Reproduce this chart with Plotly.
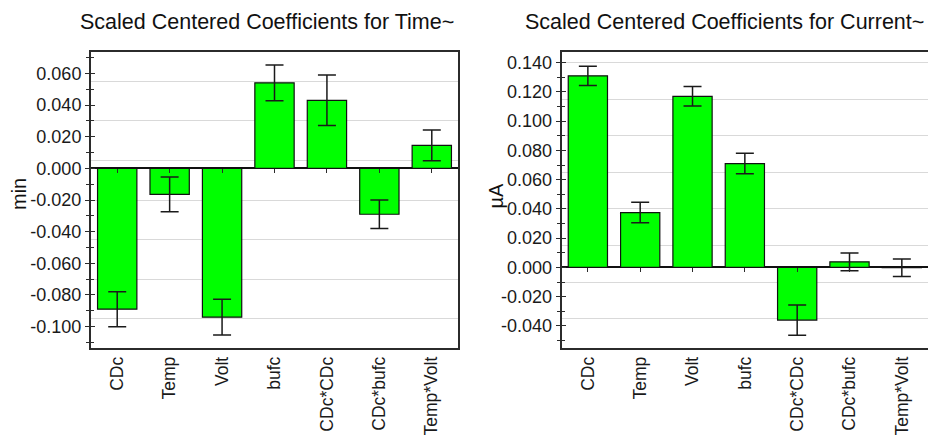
import plotly.graph_objects as go

categories = ["CDc", "Temp", "Volt", "bufc", "CDc*CDc", "CDc*bufc", "Temp*Volt"]

time_values = [-0.089, -0.0165, -0.094, 0.054, 0.043, -0.029, 0.0145]
time_errors = [0.011, 0.011, 0.0113, 0.0113, 0.016, 0.009, 0.0097]

current_values = [0.131, 0.0375, 0.117, 0.071, -0.036, 0.0038, -0.0002]
current_errors = [0.0066, 0.007, 0.0067, 0.007, 0.0103, 0.006, 0.006]

time_tickvals = [-0.10, -0.08, -0.06, -0.04, -0.02, 0.0, 0.02, 0.04, 0.06]
time_ticktext = ["-0.100", "-0.080", "-0.060", "-0.040", "-0.020", "0.000", "0.020", "0.040", "0.060"]
current_tickvals = [-0.04, -0.02, 0.0, 0.02, 0.04, 0.06, 0.08, 0.10, 0.12, 0.14]
current_ticktext = ["-0.040", "-0.020", "0.000", "0.020", "0.040", "0.060", "0.080", "0.100", "0.120", "0.140"]

titles = ["Scaled Centered Coefficients for Time~", "Scaled Centered Coefficients for Current~"]
units = ["min", "µA"]

W, H = 928, 439
FONT = "Liberation Sans, Arial, sans-serif"
GREEN = "#00ff00"
FRAME = "#2b2b2b"
GRID = "#d9d9d9"

ydom = [(H - 348) / H, (H - 52) / H]
xdoms = [[91 / W, 458 / W], [561.7 / W, 1.0]]
yranges = [[-0.1135, 0.0735], [-0.0551, 0.1473]]
grid0 = [0.005, 0.015]
xr = [-0.5, len(categories) - 0.5]
idx = list(range(len(categories)))

fig = go.Figure()

panels = [
    (time_values, time_errors, time_tickvals, time_ticktext),
    (current_values, current_errors, current_tickvals, current_ticktext),
]

for i, (vals, errs, tv, tt) in enumerate(panels):
    n = i + 1
    xa = "x" if n == 1 else f"x{n}"
    ya = "y" if n == 1 else f"y{n}"
    fig.add_trace(go.Bar(
        x=categories, y=vals, xaxis=xa, yaxis=ya,
        marker=dict(color=GREEN, line=dict(color="#111111", width=1.2)),
        width=0.75,
        error_y=dict(type="data", array=errs, visible=True, color="#1a1a1a",
                     thickness=1.5, width=9),
        showlegend=False, hoverinfo="skip",
    ))
    lab = 3 + i * 2
    # invisible helpers so the overlay axes get drawn
    for yk in (f"y{lab}", f"y{lab + 1}"):
        fig.add_trace(go.Scatter(
            x=categories, y=vals, xaxis=xa, yaxis=yk, mode="markers",
            marker=dict(opacity=0, size=1), showlegend=False, hoverinfo="skip",
        ))
    fig.add_trace(go.Scatter(
        x=idx, y=vals, xaxis=f"x{3 + i}", yaxis=ya, mode="markers",
        marker=dict(opacity=0, size=1), showlegend=False, hoverinfo="skip",
    ))

layout = dict(
    width=W, height=H, autosize=False,
    margin=dict(l=0, r=0, t=0, b=0, autoexpand=False),
    paper_bgcolor="white", plot_bgcolor="white",
    font=dict(family=FONT, size=17, color="#1a1a1a"),
    annotations=[],
)

for i in range(2):
    n = i + 1
    xkey = "xaxis" if n == 1 else f"xaxis{n}"
    ykey = "yaxis" if n == 1 else f"yaxis{n}"
    ya = "y" if n == 1 else f"y{n}"
    xa = "x" if n == 1 else f"x{n}"
    tv, tt = panels[i][2], panels[i][3]
    r0, r1 = yranges[i]
    layout[xkey] = dict(
        domain=xdoms[i], anchor=ya, type="category", range=xr,
        tickangle=-90, ticks="", tickfont=dict(size=17.5, color="#1a1a1a"),
        showline=True, mirror=True, linecolor=FRAME, linewidth=1.5,
        showgrid=False, fixedrange=True, automargin=False,
    )
    layout[ykey] = dict(
        domain=ydom, anchor=xa, range=yranges[i],
        showgrid=True, gridcolor=GRID, gridwidth=1.2,
        tick0=grid0[i], dtick=0.025, tickmode="linear",
        showticklabels=False, ticks="",
        zeroline=True, zerolinecolor="#111111", zerolinewidth=1.5,
        showline=True, mirror=True, linecolor=FRAME, linewidth=1.5,
        automargin=False,
    )
    lab = 3 + i * 2
    layout[f"yaxis{lab}"] = dict(
        overlaying=ya, anchor=xa, range=yranges[i], side="left",
        tickmode="array", tickvals=tv, ticktext=tt,
        ticks="outside", ticklen=5, tickwidth=1.3, tickcolor=FRAME,
        minor=dict(dtick=0.01, tick0=0, ticks="outside", ticklen=4,
                   tickwidth=1.3, tickcolor=FRAME, showgrid=False),
        showgrid=False, zeroline=False, showline=False,
        tickfont=dict(size=18, color="#1a1a1a"), automargin=False,
    )
    layout[f"yaxis{lab + 1}"] = dict(
        overlaying=ya, anchor=xa, range=yranges[i], side="left",
        tickmode="array", tickvals=tv,
        ticks="inside", ticklen=4, tickwidth=1.3, tickcolor=FRAME,
        minor=dict(dtick=0.01, tick0=0, ticks="inside", ticklen=3,
                   tickwidth=1.3, tickcolor=FRAME, showgrid=False),
        showticklabels=False, showgrid=False, zeroline=False, showline=False,
        automargin=False,
    )
    pos = ydom[0] + (0 - r0) / (r1 - r0) * (ydom[1] - ydom[0])
    layout[f"xaxis{3 + i}"] = dict(
        overlaying=xa, anchor="free", position=pos, range=xr,
        tickmode="array", tickvals=idx,
        ticks="outside", ticklen=4, tickwidth=1.3, tickcolor=FRAME,
        showticklabels=False, showgrid=False, zeroline=False, showline=False,
        automargin=False,
    )

title_x = [267 / W, 724 / W]
unit_x = [19 / W, 495.5 / W]
unit_y = [(H - 194) / H, (H - 195) / H]
for i in range(2):
    layout["annotations"].append(dict(
        text=titles[i], xref="paper", yref="paper", x=title_x[i], y=(H - 22) / H,
        xanchor="center", yanchor="middle", showarrow=False,
        font=dict(family=FONT, size=21.5, color="#111111"),
    ))
    layout["annotations"].append(dict(
        text=units[i], xref="paper", yref="paper", x=unit_x[i], y=unit_y[i],
        xanchor="center", yanchor="middle", showarrow=False, textangle=-90,
        font=dict(family=FONT, size=20, color="#111111"),
    ))

fig.update_layout(**layout)
fig.write_html(
    "out.html",
    config={"displayModeBar": False},
    post_script="document.body.style.margin='0';document.body.style.overflow='hidden';",
)
